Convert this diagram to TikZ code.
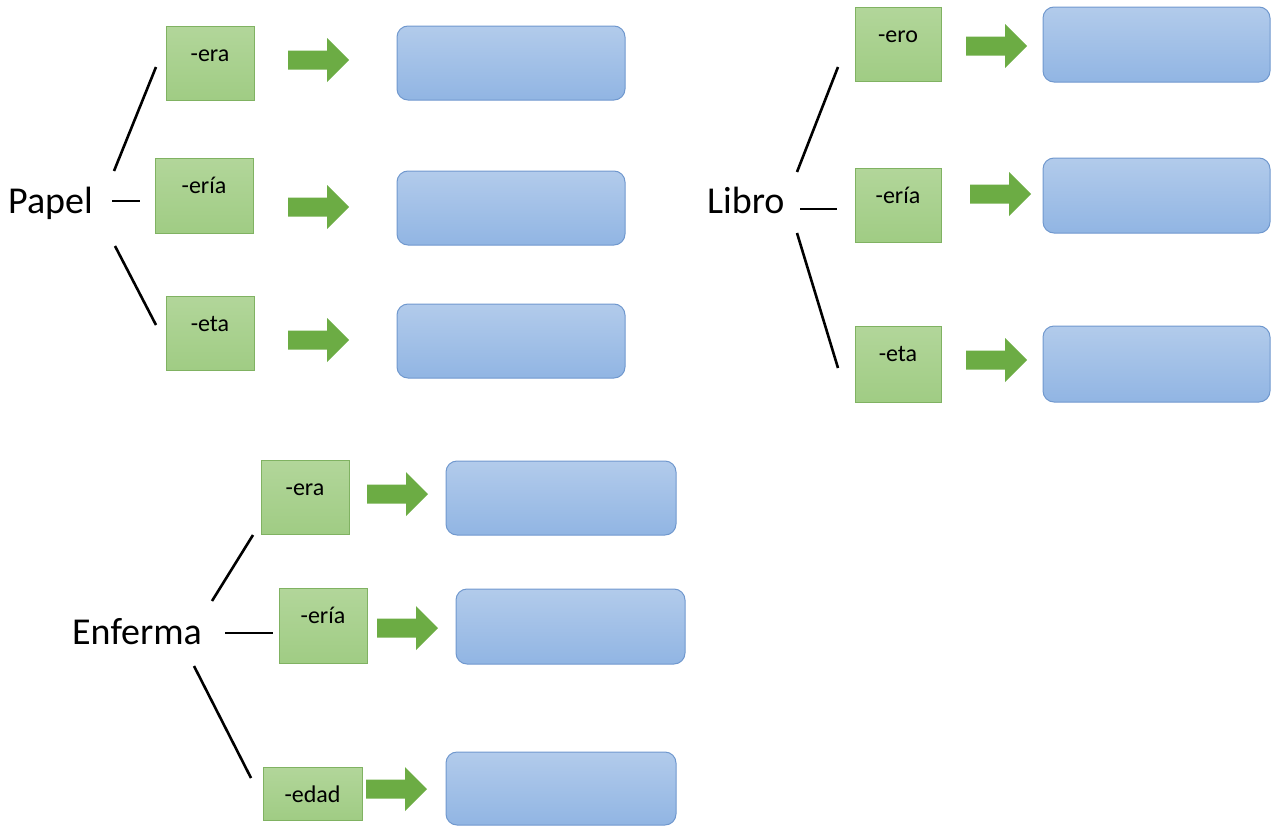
\documentclass[tikz,border=0pt]{standalone}
\usepackage{fontspec}
\setmainfont{Carlito}
\definecolor{gtop}{RGB}{178,214,154}
\definecolor{gbot}{RGB}{160,204,132}
\definecolor{gline}{RGB}{128,178,98}
\definecolor{btop}{RGB}{178,203,235}
\definecolor{bbot}{RGB}{145,181,227}
\definecolor{bline}{RGB}{112,152,206}
\definecolor{agreen}{RGB}{108,172,68}
\tikzset{
  gbox/.style={draw=gline, line width=1pt, top color=gtop, bottom color=gbot, inner sep=0pt},
  bbox/.style={draw=bline, line width=1pt, top color=btop, bottom color=bbot, rounded corners=11pt, inner sep=0pt},
  big/.style={anchor=base west, inner sep=0pt, font=\fontsize{38}{44}\selectfont},
  sfx/.style={anchor=base, inner sep=0pt, font=\fontsize{24}{28}\selectfont},
  conn/.style={line width=2.6pt, black},
}
\newcommand{\garrow}[2]{%
  \fill[agreen] (#1,#2-9.5) -- (#1+39,#2-9.5) -- (#1+39,#2-22) -- (#1+61,#2)
    -- (#1+39,#2+22) -- (#1+39,#2+9.5) -- (#1,#2+9.5) -- cycle;}
\newcommand{\gnode}[6]{% name, cx, cy, w, h, text
  \node[gbox, minimum width=#4pt, minimum height=#5pt] (#1) at (#2,#3) {};
  \node[sfx] (#1t) at ([yshift=-36pt]#1.north) {#6};}
\newcommand{\bnode}[5]{%
  \node[bbox, minimum width=#4pt, minimum height=#5pt] (#1) at (#2,#3) {};}
\begin{document}
\begin{tikzpicture}[x=1pt, y=-1pt]
\useasboundingbox (0,0) rectangle (1272,827);
% ---------- Papel ----------
\node[big] (papel) at (8,213) {Papel};
\gnode{pa}{210}{63}{88}{74}{-era}
\gnode{pb}{204}{195.5}{98}{75}{-ería}
\gnode{pc}{210}{333}{88}{74}{-eta}
\coordinate (pa0) at (114,171); \coordinate (pa1) at (156,67);
\coordinate (pb0) at (112,201); \coordinate (pb1) at (140,201);
\coordinate (pc0) at (115,246); \coordinate (pc1) at (156,325);
\draw[conn] (pa0) -- (pa1);
\draw[conn] (pb0) -- (pb1);
\draw[conn] (pc0) -- (pc1);
\garrow{288}{60}
\garrow{288}{207}
\garrow{288}{340}
\bnode{pA}{511}{63}{228}{74}
\bnode{pB}{511}{208}{228}{74}
\bnode{pC}{511}{341}{228}{74}
% ---------- Libro ----------
\node[big] (libro) at (707,213) {Libro};
\gnode{la}{898}{44}{86}{74}{-ero}
\gnode{lb}{898}{205}{86}{74}{-ería}
\gnode{lc}{898}{364}{86}{76}{-eta}
\coordinate (la0) at (797,172); \coordinate (la1) at (838,67);
\coordinate (lb0) at (800,209); \coordinate (lb1) at (837,209);
\coordinate (lc0) at (797,233); \coordinate (lc1) at (838,368);
\draw[conn] (la0) -- (la1);
\draw[conn] (lb0) -- (lb1);
\draw[conn] (lc0) -- (lc1);
\garrow{966}{46}
\garrow{970}{194}
\garrow{966}{360}
\bnode{lA}{1156.5}{44.5}{227}{75}
\bnode{lB}{1156.5}{195.5}{227}{75}
\bnode{lC}{1156.5}{364}{227}{76}
% ---------- Enferma ----------
\node[big] (enf) at (72,644) {Enferma};
\gnode{ea}{305}{497}{88}{74}{-era}
\gnode{eb}{323}{625.5}{88}{75}{-ería}
\gnode{ec}{312.5}{793.5}{99}{53}{-edad}
\coordinate (ea0) at (212,601); \coordinate (ea1) at (253,535);
\coordinate (eb0) at (225,633); \coordinate (eb1) at (273,633);
\coordinate (ec0) at (194,666); \coordinate (ec1) at (251,778);
\draw[conn] (ea0) -- (ea1);
\draw[conn] (eb0) -- (eb1);
\draw[conn] (ec0) -- (ec1);
\garrow{367}{494}
\garrow{377}{628}
\garrow{366}{789}
\bnode{eA}{561}{498}{230}{74}
\bnode{eB}{570.5}{626.5}{229}{75}
\bnode{eC}{561}{788.5}{230}{73}
\end{tikzpicture}
\end{document}
